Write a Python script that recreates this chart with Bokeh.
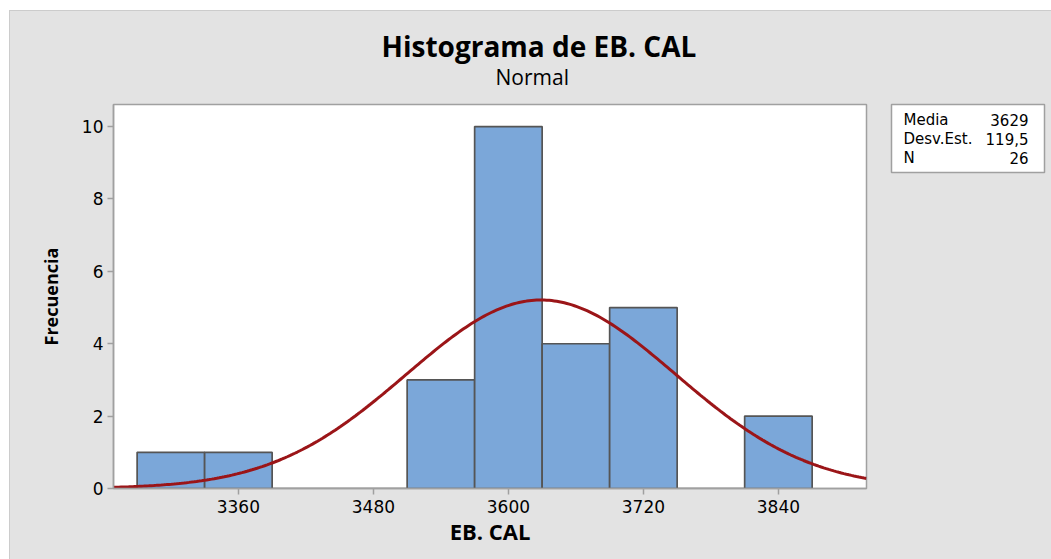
import numpy as np
from bokeh.plotting import figure
from bokeh.models import Range1d, Title, FixedTicker
from bokeh.layouts import row
from bokeh.core.properties import value
from bokeh.embed import file_html
from bokeh.resources import INLINE

# ---- data ----
bin_left = [3270, 3330, 3390, 3450, 3510, 3570, 3630, 3690, 3750, 3810]
bin_width = 60
counts = [1, 1, 0, 0, 3, 10, 4, 5, 0, 2]
mean_val = 3629
sd_val = 119.5
n_val = 26
x_ticks = [3360, 3480, 3600, 3720, 3840]
y_ticks = [0, 2, 4, 6, 8, 10]
stat_names = ["Media", "Desv.Est.", "N"]
stat_values = ["3629", "119,5", "26"]

BG = "#e3e3e3"
x0, x1 = 3249.0, 3918.3
y0, y1 = 0.0, 10.61

p = figure(width=870, height=548, frame_width=753, frame_height=384,
           output_backend="svg", toolbar_location=None,
           x_range=Range1d(x0, x1), y_range=Range1d(y0, y1),
           min_border_left=103, min_border_right=14, min_border_top=93, min_border_bottom=71,
           background_fill_color="white", border_fill_color=BG,
           margin=(0, 0, 0, 0))
p.outline_line_color = "#a0a0a0"
p.outline_line_width = 1.5
p.grid.visible = False

lefts = np.array(bin_left, dtype=float)
p.quad(left=lefts, right=lefts + bin_width, bottom=0, top=counts,
       fill_color="#7ba7d9", line_color="#555555", line_width=1.7)

xs = np.linspace(x0, x1, 300)
ys = n_val * bin_width / (sd_val * np.sqrt(2 * np.pi)) * np.exp(-0.5 * ((xs - mean_val) / sd_val) ** 2)
p.line(xs, ys, line_color="#9b1518", line_width=3)

for ax in (p.xaxis[0], p.yaxis[0]):
    ax.axis_line_color = "#a0a0a0"
    ax.axis_line_width = 1.5
    ax.major_tick_line_color = "#a0a0a0"
    ax.major_tick_line_width = 1.5
    ax.major_tick_out = 6
    ax.major_tick_in = 0
    ax.minor_tick_line_color = None
    ax.major_label_text_font = "DejaVu Sans"
    ax.major_label_text_font_size = "17px"
    ax.major_label_text_color = "black"
    ax.axis_label_text_font = "Open Sans"
    ax.axis_label_text_font_style = "bold"
    ax.axis_label_text_color = "black"

p.xaxis.axis_label_text_font_size = "22px"
p.yaxis.axis_label_text_font_size = "18px"
p.xaxis.ticker = FixedTicker(ticks=x_ticks)
p.yaxis.ticker = FixedTicker(ticks=y_ticks)
p.xaxis.axis_label = "EB. CAL"
p.yaxis.axis_label = "Frecuencia"
p.xaxis.major_label_standoff = 5
p.yaxis.major_label_standoff = 4
p.xaxis.axis_label_standoff = 0
p.yaxis.axis_label_standoff = 16

p.add_layout(Title(text="Normal", align="left", offset=382, standoff=28,
                   text_font="Open Sans", text_font_style="normal", text_line_height=0.6,
                   text_font_size="21px", text_color="black"), "above")
p.add_layout(Title(text="Histograma de EB. CAL", align="left", offset=268, standoff=-37,
                   text_font="Open Sans", text_font_style="bold",
                   text_font_size="28px", text_color="black"), "above")

# ---- statistics box ----
s = figure(width=171, height=548, frame_width=153, frame_height=68,
           output_backend="svg", toolbar_location=None,
           x_range=Range1d(0, 153), y_range=Range1d(0, 68),
           x_axis_type=None, y_axis_type=None,
           min_border_left=11, min_border_right=7, min_border_top=92, min_border_bottom=388,
           background_fill_color="white", border_fill_color=BG,
           margin=(0, 0, 0, 0))
s.grid.visible = False
s.outline_line_color = "#a0a0a0"
s.outline_line_width = 1.5
row_y = [53, 34, 15]
s.text(x=[12] * 3, y=row_y, text=stat_names, text_align="left", text_baseline="middle",
       text_font=value("DejaVu Sans"), text_font_size="15px", text_color="black")
s.text(x=[137] * 3, y=row_y, text=stat_values, text_align="right", text_baseline="middle",
       text_font=value("DejaVu Sans"), text_font_size="15px", text_color="black")

layout = row(p, s, margin=(10, 0, 0, 9),
             styles={"background-color": BG, "border-top": "1px solid #cccccc",
                     "border-left": "1px solid #cccccc"})
open("out.html", "w").write(file_html(layout, INLINE))
